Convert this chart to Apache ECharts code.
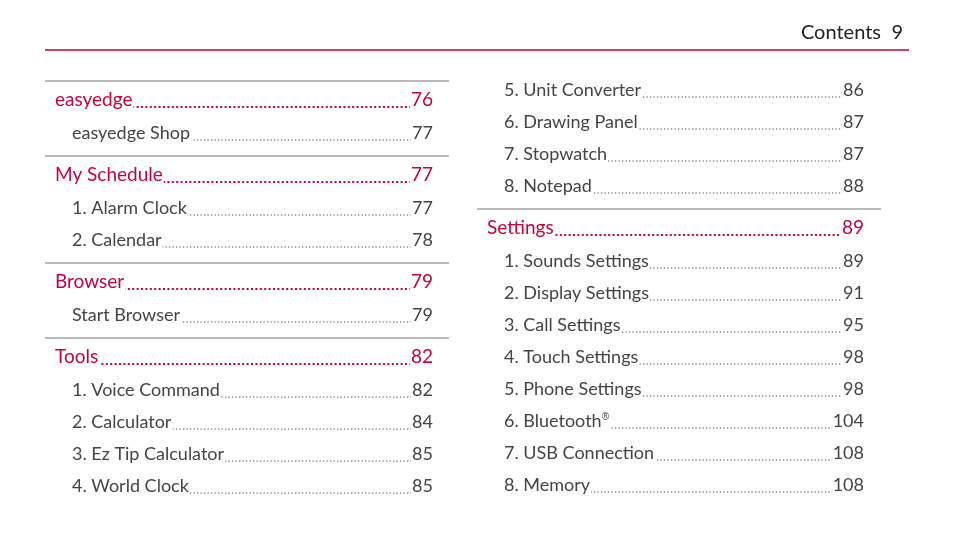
<!DOCTYPE html>
<html><head><meta charset="utf-8">
<script src="https://cdn.jsdelivr.net/npm/echarts@6/dist/echarts.min.js"></script>
<style>html,body{margin:0;background:#fff}#c{width:954px;height:546px}</style>
</head><body><div id="c"></div>
<script>
// h = section heading, e = entry, r = rule
var leftKinds = ['r','h','e','r','h','e','e','r','h','e','r','h','e','e','e','e'];
var leftTitles = ['', 'easyedge', 'easyedge Shop', '', 'My Schedule', '1. Alarm Clock', '2. Calendar', '', 'Browser', 'Start Browser', '', 'Tools', '1. Voice Command', '2. Calculator', '3. Ez Tip Calculator', '4. World Clock'];
var leftPages = ['', '76', '77', '', '77', '77', '78', '', '79', '79', '', '82', '82', '84', '85', '85'];
var rightKinds = ['e','e','e','e','r','h','e','e','e','e','e','e','e','e'];
var rightTitles = ['5. Unit Converter', '6. Drawing Panel', '7. Stopwatch', '8. Notepad', '', 'Settings', '1. Sounds Settings', '2. Display Settings', '3. Call Settings', '4. Touch Settings', '5. Phone Settings', '6. Bluetooth{s|®}', '7. USB Connection', '8. Memory'];
var rightPages = ['86', '87', '87', '88', '', '89', '89', '91', '95', '98', '98', '104', '108', '108'];

var RED = '#c8003e', GREY = '#444';
var FONT = 'Lato, "Noto Sans", sans-serif';
var els = [
  {type:'line', shape:{x1:45,y1:50,x2:909,y2:50}, style:{stroke:RED,lineWidth:1.5}},
  {type:'text', x:881, y:33, style:{text:'Contents', fill:'#222', font:'20px ' + FONT, align:'right', verticalAlign:'middle'}},
  {type:'text', x:903, y:33, style:{text:'9', fill:'#222', font:'20px ' + FONT, align:'right', verticalAlign:'middle'}}
];

function column(kinds, titles, pages, y0, ruleX1, ruleX2, headX, entryX, numX) {
  var y = y0, prev = null;
  kinds.forEach(function (k, i) {
    if (prev !== null) {
      if (k === 'r') y += 23;
      else if (prev === 'r') y += 19;
      else if (prev === 'h') y += 33;
      else y += 32;
    }
    prev = k;
    if (k === 'r') {
      els.push({type:'line', shape:{x1:ruleX1,y1:y,x2:ruleX2,y2:y}, style:{stroke:'#777',lineWidth:1}});
      return;
    }
    var head = k === 'h';
    var col = head ? RED : GREY;
    var x = head ? headX : entryX;
    var fs = head ? 19 : 18;
    els.push({type:'line', z:1, shape:{x1:x+20,y1:y+7,x2:numX-8,y2:y+7},
      style:{stroke:col, lineWidth:head ? 2 : 1.2, lineDash:head ? [2,2.4] : [1.2,2.3]}});
    els.push({type:'text', z:2, x:x, y:y, style:{text:titles[i], fill:col, font:fs+'px '+FONT,
      verticalAlign:'middle', backgroundColor:'#fff', padding:[0,1,0,0],
      rich:{s:{fontSize:10, verticalAlign:'top', fill:col, padding:[0,0,8,0]}}}});
    els.push({type:'text', z:2, x:numX, y:y, style:{text:pages[i], fill:col, font:fs+'px '+FONT,
      align:'right', verticalAlign:'middle', backgroundColor:'#fff', padding:[0,0,0,1]}});
  });
}
column(leftKinds, leftTitles, leftPages, 81, 45, 449, 55, 72, 433);
column(rightKinds, rightTitles, rightPages, 90, 477, 881, 487, 504, 864);

var chart = echarts.init(document.getElementById('c'));
chart.setOption({graphic: els});
</script></body></html>
